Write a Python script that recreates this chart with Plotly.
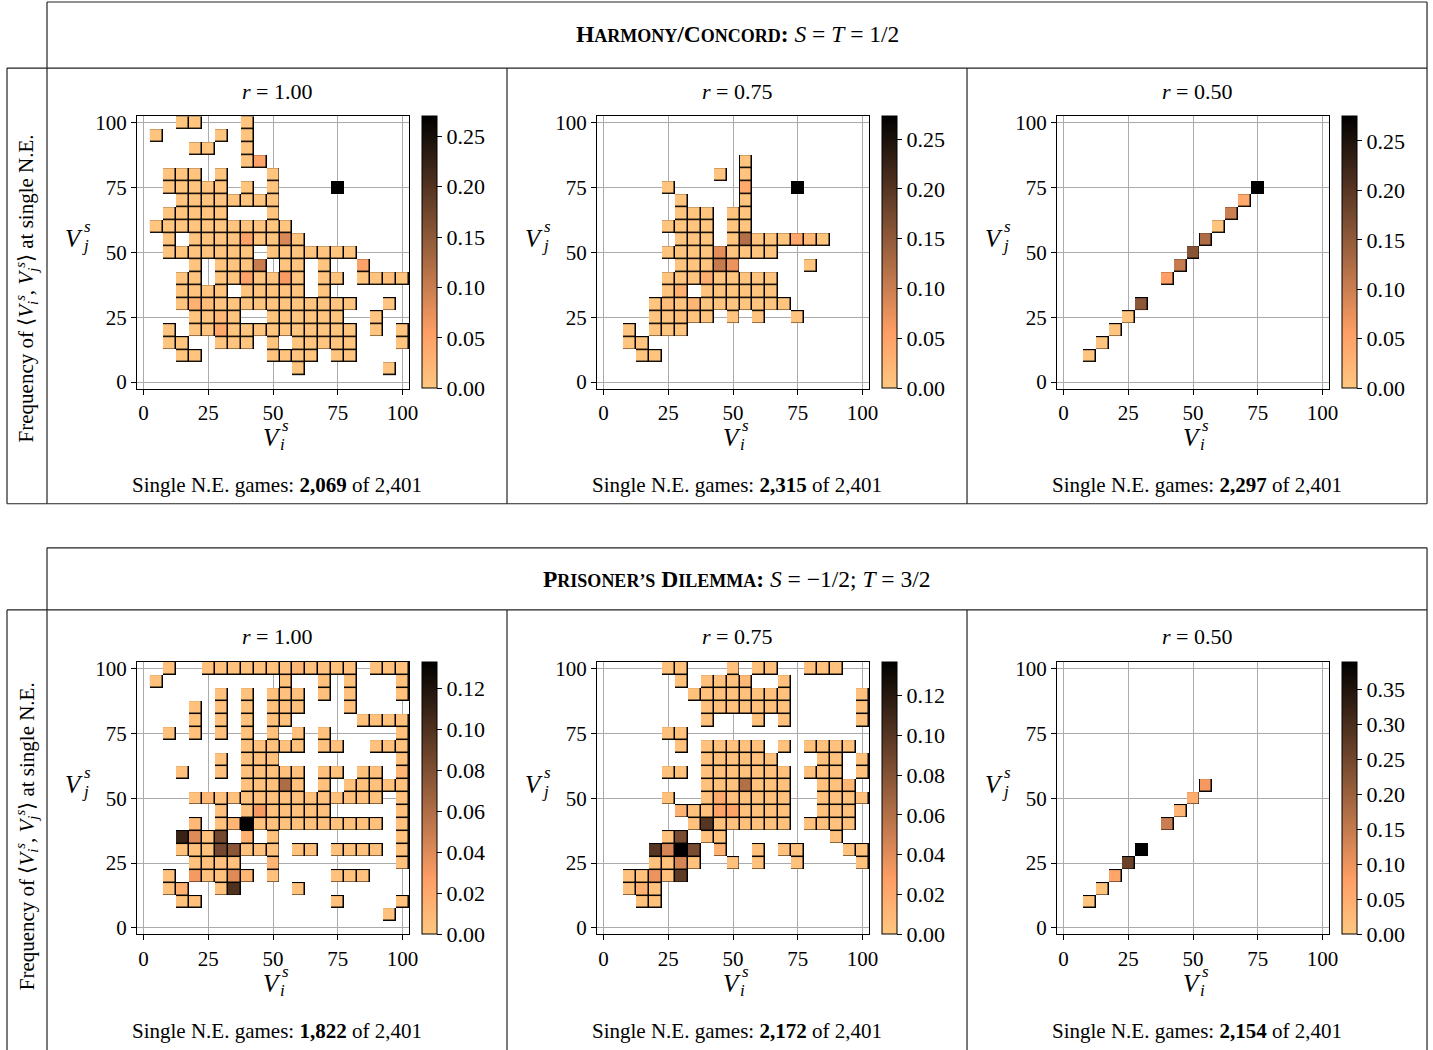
import plotly.graph_objects as go

W, H = 1433, 1050
# the photographed page comes out slightly shrunk and shifted; positions below are
# given in target pixels and converted with these factors
SX, SY, OY = 0.9937, 0.988, 5.0
FONT = "Liberation Serif"

# centres of the value bins on both axes
CELL_VALUES = [5, 10, 15, 20, 25, 30, 35, 40, 45, 50, 55, 60, 65, 70, 75, 80, 85, 90, 95, 100]
AXIS_TICKS = [0, 25, 50, 75, 100]
BASE_FREQ = 0.004   # frequency of the palest (almost zero) cells

# ---------------- Harmony / Concord ----------------
# rows: V_j value -> list of V_i values with a non-zero frequency
hc100_rows = {
    100: [15, 20, 40], 95: [5, 30, 40], 90: [20, 25, 40], 85: [40, 45],
    80: [10, 15, 20, 30, 50], 75: [10, 15, 20, 25, 30, 40, 50, 75],
    70: [15, 20, 25, 30, 35, 40, 45, 50], 65: [10, 15, 20, 25, 30, 50],
    60: [5, 10, 15, 20, 25, 30, 35, 40, 45, 50, 55],
    55: [10, 20, 25, 30, 35, 40, 45, 50, 55, 60],
    50: [10, 15, 20, 25, 30, 35, 40, 50, 55, 60, 65, 70, 75, 80],
    45: [20, 30, 35, 40, 45, 55, 60, 70, 85],
    40: [15, 20, 30, 35, 40, 45, 50, 55, 60, 70, 75, 85, 90, 95, 100],
    35: [15, 20, 25, 30, 40, 45, 50, 55, 60, 70],
    30: [15, 20, 25, 30, 35, 40, 45, 50, 55, 60, 65, 70, 75, 80, 95],
    25: [20, 25, 30, 35, 50, 55, 60, 65, 70, 75, 90],
    20: [10, 20, 25, 30, 35, 40, 45, 50, 55, 60, 65, 70, 75, 80, 90, 100],
    15: [10, 15, 30, 35, 40, 50, 60, 65, 70, 75, 80, 100],
    10: [15, 20, 50, 55, 60, 65, 75, 80], 5: [60, 95],
}
# (V_i, V_j): frequency of the darker cells
hc100_peaks = {(75, 75): 0.27, (45, 85): 0.05, (45, 45): 0.10, (55, 55): 0.085,
               (40, 55): 0.05, (40, 40): 0.05, (55, 40): 0.06, (85, 45): 0.05,
               (20, 30): 0.03, (25, 30): 0.015, (30, 20): 0.045, (30, 25): 0.02,
               (95, 40): 0.012}

hc75_rows = {
    85: [55], 80: [45, 55], 75: [25, 55, 75], 70: [30, 55],
    65: [30, 35, 40, 50, 55], 60: [25, 30, 35, 40, 50, 55],
    55: [30, 35, 40, 50, 55, 60, 65, 70, 75, 80, 85],
    50: [25, 30, 35, 40, 45, 50, 55, 60, 65],
    45: [30, 35, 40, 45, 50, 80],
    40: [25, 30, 35, 40, 45, 50, 55, 60, 65],
    35: [25, 30, 40, 45, 50, 55, 60, 65],
    30: [20, 25, 30, 35, 40, 45, 50, 55, 60, 65, 70],
    25: [20, 25, 30, 35, 40, 50, 60, 75],
    20: [10, 20, 25, 30], 15: [10, 15], 10: [15, 20],
}
hc75_peaks = {(75, 75): 0.273, (55, 75): 0.04, (55, 55): 0.12, (75, 55): 0.045,
              (80, 55): 0.02, (45, 50): 0.078, (45, 45): 0.104, (50, 45): 0.07,
              (40, 40): 0.035, (30, 35): 0.03, (25, 30): 0.015, (35, 30): 0.025,
              (30, 25): 0.015}

hc50_rows = {10: [10], 15: [15], 20: [20], 25: [25], 30: [30], 40: [40], 45: [45],
             50: [50], 55: [55], 60: [60], 65: [65], 70: [70], 75: [75]}
hc50_peaks = {(30, 30): 0.155, (40, 40): 0.055, (45, 45): 0.105, (50, 50): 0.16,
              (55, 55): 0.125, (65, 65): 0.10, (70, 70): 0.04, (75, 75): 0.275}

# ---------------- Prisoner's Dilemma ----------------
pd100_rows = {
    100: [10, 25, 30, 35, 40, 45, 50, 55, 60, 65, 70, 75, 80, 90, 95, 100],
    95: [5, 55, 70, 80, 100],
    90: [30, 40, 50, 55, 60, 70, 80, 100],
    85: [20, 30, 40, 50, 55, 60, 80],
    80: [20, 30, 40, 50, 55, 85, 90, 95, 100],
    75: [10, 20, 30, 40, 50, 60, 70, 100],
    70: [40, 45, 50, 55, 60, 70, 75, 90, 95, 100],
    65: [30, 40, 45, 50, 100],
    60: [15, 30, 40, 45, 50, 55, 60, 70, 75, 85, 90, 100],
    55: [40, 45, 50, 55, 60, 70, 80, 85, 90, 95, 100],
    50: [20, 25, 30, 35, 40, 45, 50, 55, 60, 65, 70, 75, 80, 85, 90, 100],
    45: [30, 40, 45, 50, 55, 60, 65, 70, 100],
    40: [20, 30, 35, 40, 45, 50, 55, 60, 65, 70, 75, 80, 85, 90, 100],
    35: [15, 20, 25, 30, 40, 50, 100],
    30: [15, 20, 25, 30, 35, 40, 45, 50, 60, 65, 75, 80, 85, 90, 100],
    25: [20, 25, 30, 35, 50, 100],
    20: [10, 20, 25, 30, 35, 40, 50, 75, 80, 85],
    15: [10, 15, 30, 35, 60],
    10: [15, 20, 75, 100],
    5: [95],
}
pd100_peaks = {(40, 40): 0.133, (15, 35): 0.11, (30, 35): 0.085, (30, 30): 0.085,
               (35, 30): 0.075, (35, 15): 0.10, (55, 55): 0.06, (20, 35): 0.04,
               (35, 20): 0.04, (20, 20): 0.03, (45, 45): 0.03, (15, 15): 0.016,
               (40, 35): 0.016, (25, 50): 0.01, (60, 100): 0.012, (100, 60): 0.012,
               (50, 25): 0.012, (35, 40): 0.012, (20, 40): 0.01, (40, 20): 0.012}

pd75_rows = {
    100: [25, 30, 50, 60, 65, 80, 85, 90],
    95: [30, 40, 45, 50, 55, 70],
    90: [35, 40, 45, 50, 55, 60, 65, 70, 100],
    85: [40, 45, 50, 55, 60, 65, 70, 100],
    80: [40, 60, 70, 100],
    75: [25, 30],
    70: [30, 40, 45, 50, 55, 60, 70, 80, 85, 90, 95],
    65: [40, 45, 50, 55, 60, 65, 85, 90, 100],
    60: [25, 30, 40, 45, 50, 55, 60, 65, 70, 80, 85, 90, 100],
    55: [40, 45, 50, 55, 60, 65, 70, 85, 90, 95],
    50: [25, 40, 45, 50, 55, 60, 65, 70, 85, 90, 95, 100],
    45: [30, 35, 40, 45, 50, 55, 60, 65, 70, 85, 90, 95],
    40: [35, 40, 45, 50, 55, 60, 65, 70, 80, 85, 90, 95],
    35: [25, 30, 40, 45, 90],
    30: [20, 25, 30, 35, 45, 60, 70, 75, 95, 100],
    25: [20, 25, 30, 35, 50, 60, 75, 100],
    20: [10, 15, 20, 25, 30],
    15: [10, 15, 20],
    10: [15, 20],
}
pd75_peaks = {(30, 30): 0.137, (40, 40): 0.10, (20, 30): 0.10, (30, 20): 0.097,
              (30, 35): 0.085, (35, 30): 0.085, (55, 55): 0.06, (25, 30): 0.045,
              (30, 25): 0.045, (20, 20): 0.035, (45, 45): 0.025, (50, 45): 0.025,
              (45, 50): 0.02, (30, 45): 0.015, (45, 30): 0.015, (15, 15): 0.015,
              (95, 55): 0.012, (55, 95): 0.01}

pd50_rows = {10: [10], 15: [15], 20: [20], 25: [25], 30: [30], 40: [40], 45: [45],
             50: [50], 55: [55]}
pd50_peaks = {(15, 15): 0.008, (20, 20): 0.066, (25, 25): 0.26, (30, 30): 0.389,
              (40, 40): 0.144, (45, 45): 0.035, (50, 50): 0.05, (55, 55): 0.09}

# colour-bar maxima and ticks
zmax_values = [0.27, 0.273, 0.275, 0.133, 0.137, 0.389]
hc_cb_ticks = [0.0, 0.05, 0.10, 0.15, 0.20, 0.25]
pd_cb_ticks = [0.0, 0.02, 0.04, 0.06, 0.08, 0.10, 0.12]
pd50_cb_ticks = [0.0, 0.05, 0.10, 0.15, 0.20, 0.25, 0.30, 0.35]

r_labels = ["1.00", "0.75", "0.50"]
single_ne_counts = ["2,069", "2,315", "2,297", "1,822", "2,172", "2,154"]
total_games = "2,401"

all_rows = [hc100_rows, hc75_rows, hc50_rows, pd100_rows, pd75_rows, pd50_rows]
all_peaks = [hc100_peaks, hc75_peaks, hc50_peaks, pd100_peaks, pd75_peaks, pd50_peaks]
all_cb_ticks = [hc_cb_ticks, hc_cb_ticks, hc_cb_ticks, pd_cb_ticks, pd_cb_ticks, pd50_cb_ticks]

# matplotlib "copper_r"
COPPER_R = [[0.0, "rgb(255,199,127)"], [0.2, "rgb(255,159,101)"], [1.0, "rgb(0,0,0)"]]

# ---------------- layout geometry (target pixels) ----------------
COL_AX = [(137, 409), (597, 869), (1057, 1329)]
ROW_AX = [(116, 388), (661, 933)]
COL_CENTER = [277, 737, 1197]


def fx(p, clamp=True):
    v = (p / SX) / W
    return max(0.0003, min(0.9997, v)) if clamp else v


def fy(p, clamp=True):
    v = 1 - ((p - OY) / SY) / H
    return max(0.0003, min(0.9997, v)) if clamp else v


fig = go.Figure()
layout = dict(width=W, height=H, autosize=False, margin=dict(l=0, r=0, t=0, b=0, pad=0),
              paper_bgcolor="white", plot_bgcolor="white", showlegend=False,
              font=dict(family=FONT, color="black", size=20))
annotations = []
shapes = []


def build_z(rows, peaks):
    z = []
    mask = []
    for vj in CELL_VALUES:
        zr, mr = [], []
        xs = rows.get(vj, [])
        for vi in CELL_VALUES:
            if vi in xs:
                zr.append(peaks.get((vi, vj), BASE_FREQ))
                mr.append(1)
            else:
                zr.append(None)
                mr.append(None)
        z.append(zr)
        mask.append(mr)
    return z, mask


def add_v(x_right, y_mid, sub, size=25, small=17):
    """Italic V with a stacked superscript s and a subscript index."""
    annotations.append(dict(text="<i>V</i>", x=fx(x_right), y=fy(y_mid), xanchor="right",
                            font=dict(size=size)))
    annotations.append(dict(text="<i>s</i>", x=fx(x_right - 3), y=fy(y_mid - 12), xanchor="left",
                            font=dict(size=small)))
    annotations.append(dict(text="<i>" + sub + "</i>", x=fx(x_right - 5), y=fy(y_mid + 7),
                            xanchor="left", font=dict(size=small)))


for k in range(6):
    row, col = divmod(k, 3)
    n = "" if k == 0 else str(k + 1)
    xa, ya = "x" + n, "y" + n
    z, mask = build_z(all_rows[k], all_peaks[k])
    # black under-layer gives the cell edges
    fig.add_trace(go.Heatmap(x=CELL_VALUES, y=CELL_VALUES, z=mask, zmin=0, zmax=1,
                             colorscale=[[0, "black"], [1, "black"]], showscale=False,
                             xaxis=xa, yaxis=ya, hoverinfo="skip"))
    x0, x1 = COL_AX[col]
    y0, y1 = ROW_AX[row]
    fig.add_trace(go.Heatmap(
        x=CELL_VALUES, y=CELL_VALUES, z=z, zmin=0, zmax=zmax_values[k],
        colorscale=COPPER_R, xgap=1.5, ygap=1.5, xaxis=xa, yaxis=ya, hoverinfo="skip",
        colorbar=dict(x=fx(x1 + 13), xanchor="left", xref="paper",
                      y=fy(y0), yanchor="top", yref="paper",
                      len=fy(y0) - fy(y1), lenmode="fraction",
                      thickness=15, thicknessmode="pixels", xpad=0, ypad=0,
                      outlinewidth=1, outlinecolor="black",
                      ticks="outside", ticklen=5, tickwidth=1, tickcolor="black",
                      tickvals=all_cb_ticks[k], tickformat=".2f",
                      tickfont=dict(family=FONT, size=22, color="black"))))
    common = dict(range=[-2.5, 102.5], tickvals=AXIS_TICKS, showgrid=True,
                  gridcolor="#ababab", gridwidth=1, zeroline=False, showline=True,
                  mirror=True, linecolor="black", linewidth=1, ticks="outside",
                  ticklen=5, tickwidth=1, tickcolor="black",
                  tickfont=dict(family=FONT, size=21, color="black"), fixedrange=True)
    layout["xaxis" + n] = dict(common, domain=[fx(x0), fx(x1)], anchor=ya)
    layout["yaxis" + n] = dict(common, domain=[fy(y1), fy(y0)], anchor=xa)

    cx = COL_CENTER[col]
    off = 0 if row == 0 else 545
    # panel title
    annotations.append(dict(text="<i>r</i> = " + r_labels[col], x=fx(cx), y=fy(91 + off),
                            font=dict(size=22)))
    # bottom count line
    annotations.append(dict(text="Single N.E. games: <b>" + single_ne_counts[k] + "</b> of " + total_games,
                            x=fx(cx), y=fy(484 + off), font=dict(size=21)))
    # axis titles
    add_v((x0 + x1) / 2 + 10, 437 + off, "i")
    add_v(x0 - 52, 238 + off, "j")

# block titles (bold small capitals, then the payoff parameters)
SC = "style='font-size:18px'"
hc_title = ("<b>H<span " + SC + ">ARMONY</span>/C<span " + SC + ">ONCORD</span>:</b> "
            "<i>S</i> = <i>T</i> = 1/2")
pd_title = ("<b>P<span " + SC + ">RISONER\u2019S</span> D<span " + SC + ">ILEMMA</span>:</b> "
            "<i>S</i> = \u22121/2; <i>T</i> = 3/2")
annotations.append(dict(text=hc_title, x=fx(737), y=fy(34), font=dict(size=23.5)))
annotations.append(dict(text=pd_title, x=fx(737), y=fy(578), font=dict(size=23.5)))

side_label = ("Frequency of \u27e8<i>V</i><sub><i>i</i></sub><sup><i>s</i></sup>, "
              "<i>V</i><sub><i>j</i></sub><sup><i>s</i></sup>\u27e9 at single N.E.")
for yc in (288, 835):
    annotations.append(dict(text=side_label, x=fx(26), y=fy(yc), textangle=-90,
                            font=dict(size=21)))

for a in annotations:
    a.setdefault("xref", "paper")
    a.setdefault("yref", "paper")
    a.setdefault("showarrow", False)
    a.setdefault("xanchor", "center")
    a.setdefault("yanchor", "middle")
    a["font"] = dict(family=FONT, color="black", **a.get("font", {}))

# table frame lines (target pixels)
frame_lines = [
    # top block
    (47, 2, 1427, 2), (7, 68, 1427, 68), (7, 503, 1427, 503),
    (7, 68, 7, 503), (47, 2, 47, 503), (507, 68, 507, 503), (967, 68, 967, 503),
    (1427, 2, 1427, 503),
    # bottom block
    (47, 547, 1427, 547), (7, 609, 1427, 609),
    (7, 609, 7, 1050), (47, 547, 47, 1050), (507, 609, 507, 1050), (967, 609, 967, 1050),
    (1427, 547, 1427, 1050),
]
for (a, b, c, d) in frame_lines:
    shapes.append(dict(type="line", xref="paper", yref="paper",
                       x0=fx(a, False), y0=fy(b, False), x1=fx(c, False), y1=fy(d, False),
                       line=dict(color="#222222", width=1.2)))

layout["annotations"] = annotations
layout["shapes"] = shapes
fig.update_layout(**layout)
fig.write_html("out.html", config={"responsive": False, "displayModeBar": False})
